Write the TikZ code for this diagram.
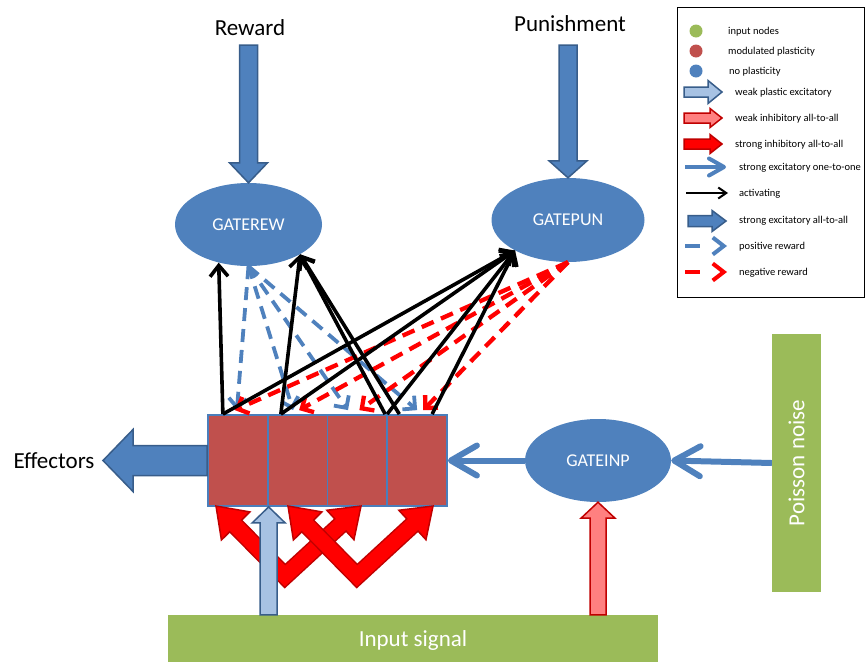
\documentclass[tikz,border=0pt]{standalone}
\usepackage{fontspec}
\setmainfont{Carlito}
\usepackage{graphicx}
\usetikzlibrary{calc,arrows.meta,shapes.geometric}
\definecolor{gblue}{HTML}{4F81BD}
\definecolor{gblueD}{HTML}{385D8A}
\definecolor{gred}{HTML}{C0504D}
\definecolor{ggreen}{HTML}{9BBB59}
\definecolor{lblue}{HTML}{A7C2E3}
\definecolor{pinkish}{HTML}{FF8080}
\definecolor{dred}{HTML}{C00000}
\definecolor{cellborder}{HTML}{4A7EBB}
% block arrow: #1 style, #2 tail, #3 tip, #4 half shaft, #5 half head, #6 head length
\newcommand\myblockarrow[6]{%
  \coordinate (ba-h) at ($(#3)!#6!(#2)$);
  \draw[#1] ($(#2)!#4!90:(#3)$) -- ($(ba-h)!#4!-90:(#2)$) -- ($(ba-h)!#5!-90:(#2)$) -- (#3)
    -- ($(ba-h)!#5!90:(#2)$) -- ($(ba-h)!#4!90:(#2)$) -- ($(#2)!#4!-90:(#3)$) -- cycle;
}
% V shaped double arrow: #1 tip a, #2 vertex, #3 tip b
\newcommand\myvarrow[3]{%
  \coordinate (va) at ($(#1)!28pt!(#2)$);
  \coordinate (vb) at ($(#3)!28pt!(#2)$);
  \draw[line width=18pt, dred, line join=miter] (va) -- (#2) -- (vb);
  \draw[vhead] (#1) -- ($(va)!20pt!90:(#1)$) -- ($(va)!20pt!-90:(#1)$) -- cycle;
  \draw[vhead] (#3) -- ($(vb)!20pt!90:(#3)$) -- ($(vb)!20pt!-90:(#3)$) -- cycle;
  \draw[line width=15pt, red, line join=miter] ($(#1)!17pt!(#2)$) -- (#2) -- ($(#3)!17pt!(#2)$);
}
\begin{document}
\begin{tikzpicture}[x=1pt,y=-1pt,
  gate/.style={ellipse, fill=gblue, inner sep=0pt, text=white, font=\fontsize{18}{20}\selectfont},
  cellbox/.style={rectangle, fill=gred, draw=cellborder, line width=1.8pt, minimum width=59.75pt, minimum height=91pt, inner sep=0pt},
  greenbox/.style={rectangle, fill=ggreen, inner sep=0pt, text=white, font=\fontsize{23}{27}\selectfont},
  bigtext/.style={font=\fontsize{23}{27}\selectfont, text=black, inner sep=0pt},
  legtext/.style={anchor=base west, font=\fontsize{10.5}{12}\selectfont, inner sep=0pt},
  activ/.style={draw=black, line width=3.6pt, -{Straight Barb[length=11pt,width=18pt]}},
  posrew/.style={draw=gblue, line width=3.8pt, dash pattern=on 13pt off 8pt, -{Straight Barb[length=9pt,width=18pt]}},
  negrew/.style={draw=red, line width=4.3pt, dash pattern=on 13pt off 8pt, -{Straight Barb[length=9pt,width=18pt]}},
  onetoone/.style={draw=gblue, line width=6pt, -{Straight Barb[length=26pt,width=30pt,round]}},
  blueblock/.style={fill=gblue, draw=gblueD, line width=1.5pt, line join=miter},
  weakexc/.style={fill=lblue, draw=gblueD, line width=1.5pt, line join=miter},
  weakinh/.style={fill=pinkish, draw=dred, line width=1.5pt, line join=miter},
  stronginh/.style={fill=red, draw=dred, line width=1.5pt, line join=miter},
  vhead/.style={fill=red, draw=dred, line width=1.5pt, line join=miter}]
\useasboundingbox (0,0) rectangle (866,662);

% texts
\node[bigtext] (reward) at (250,27.5) {Reward};
\node[bigtext] (punish) at (570,23.5) {Punishment};
\node[bigtext] (effectors) at (54,461) {Effectors};

% gates
\node[gate, minimum width=147pt, minimum height=83pt] (gaterew) at (248.5,224.5) {GATEREW};
\node[gate, minimum width=153pt, minimum height=84pt] (gatepun) at (568,220) {GATEPUN};
\node[gate, minimum width=146pt, minimum height=83pt] (gateinp) at (598,460.5) {GATEINP};

% input boxes
\node[greenbox, minimum width=490pt, minimum height=47pt, text height=15pt, text depth=0pt] (input) at (413,638.5) {Input signal};
\node[greenbox, minimum width=49pt, minimum height=258pt] (poisson) at (796.5,463) {\rotatebox{90}{Poisson noise}};

% cells
\node[cellbox] (cell1) at (237.875,460.5) {};
\node[cellbox] (cell2) at (297.625,460.5) {};
\node[cellbox] (cell3) at (357.375,460.5) {};
\node[cellbox] (cell4) at (417.125,460.5) {};

% block arrows
\myblockarrow{blueblock}{248.5,45}{gaterew.north}{9pt}{19pt}{20pt}
\myblockarrow{blueblock}{568,45}{gatepun.north}{9pt}{19pt}{17pt}
\myblockarrow{blueblock}{cell1.west}{103,460.5}{15pt}{31pt}{30pt}

% red V arrows
\coordinate (v1a) at (216,506);
\coordinate (v1) at (285,576);
\coordinate (v1b) at (361,506);
\coordinate (v2a) at (288,506);
\coordinate (v2) at (357,576);
\coordinate (v2b) at (433,506);
\myvarrow{v1a}{v1}{v1b}
\myvarrow{v2a}{v2}{v2b}

\myblockarrow{weakexc}{cell1.south east |- input.north}{cell1.south east}{8.5pt}{16.5pt}{16pt}
\myblockarrow{weakinh}{gateinp.south |- input.north}{gateinp.south}{8pt}{17pt}{16pt}

% one-to-one
\draw[onetoone] (gateinp.west) -- (cell4.east);
\draw[onetoone] (poisson.west) -- (gateinp.east);

% positive reward (blue dashed)
\draw[posrew] (gaterew.south) -- ([xshift=-1pt,yshift=4pt]cell1.north);
\draw[posrew] (gaterew.south) -- ([xshift=-4.6pt,yshift=4pt]cell2.north);
\draw[posrew] (gaterew.south) -- ([xshift=-9.4pt,yshift=4pt]cell3.north);
\draw[posrew] (gaterew.south) -- ([xshift=0pt,yshift=4pt]cell4.north);
% negative reward (red dashed)
\draw[negrew] (gatepun.south) -- ([xshift=-3pt,yshift=4pt]cell1.north);
\draw[negrew] (gatepun.south) -- ([xshift=1.5pt,yshift=4pt]cell2.north);
\draw[negrew] (gatepun.south) -- ([xshift=2pt,yshift=4pt]cell3.north);
\draw[negrew] (gatepun.south) -- ([xshift=6pt,yshift=4pt]cell4.north);

% activating (black)
\draw[activ] ([xshift=-15pt]cell1.north) -- (gaterew.232);
\draw[activ] ([xshift=14pt]cell2.north west) -- (gaterew.330);
\draw[activ] ([xshift=-3pt]cell3.north east) -- (gaterew.330);
\draw[activ] ([xshift=13pt]cell4.north west) -- (gaterew.330);
\draw[activ] ([xshift=-15pt]cell1.north) -- (gatepun.210);
\draw[activ] ([xshift=14pt]cell2.north west) -- (gatepun.210);
\draw[activ] ([xshift=-1pt]cell3.north east) -- (gatepun.210);
\draw[activ] ([xshift=15pt]cell4.north) -- (gatepun.210);

% legend
\node[draw=black, line width=1pt, minimum width=187pt, minimum height=290pt, inner sep=0pt] (legend) at (770.5,152) {};
\fill[ggreen] (696,31) circle[radius=6.5pt];
\fill[gred] (696,51) circle[radius=6.5pt];
\fill[gblue] (696,71) circle[radius=6.5pt];
\node[legtext] (l1) at (728,34.5) {input nodes};
\node[legtext] (l2) at (728,54.5) {modulated plasticity};
\node[legtext] (l3) at (729,74.5) {no plasticity};
\myblockarrow{weakexc}{684,92}{722,92}{5pt}{11.5pt}{14pt}
\node[legtext] (l4) at (735,95) {weak plastic excitatory};
\myblockarrow{weakinh}{684,118}{722,118}{5pt}{9.5pt}{12pt}
\node[legtext] (l5) at (735,121) {weak inhibitory all-to-all};
\myblockarrow{stronginh}{684,144}{722,144}{5pt}{9.5pt}{12pt}
\node[legtext] (l6) at (735,147) {strong inhibitory all-to-all};
\draw[draw=gblue, line width=4pt, -{Straight Barb[length=15pt,width=17pt,round]}] (685,167) -- (726,167);
\node[legtext] (l7) at (739,170.5) {strong excitatory one-to-one};
\draw[draw=black, line width=2pt, -{Straight Barb[length=8pt,width=11pt]}] (686,193) -- (728,193);
\node[legtext] (l8) at (739,196.5) {activating};
\myblockarrow{blueblock}{688,221}{726,221}{5.5pt}{10.5pt}{14pt}
\node[legtext] (l9) at (739,223.5) {strong excitatory all-to-all};
\draw[draw=gblue, line width=4pt, dash pattern=on 15pt off 30pt, -{Straight Barb[length=11pt,width=17pt]}] (685,246) -- (727,246);
\node[legtext] (l10) at (739,249.5) {positive reward};
\draw[draw=red, line width=4pt, dash pattern=on 15pt off 30pt, -{Straight Barb[length=11pt,width=17pt]}] (685,272) -- (727,272);
\node[legtext] (l11) at (739,275.5) {negative reward};
\end{tikzpicture}
\end{document}
